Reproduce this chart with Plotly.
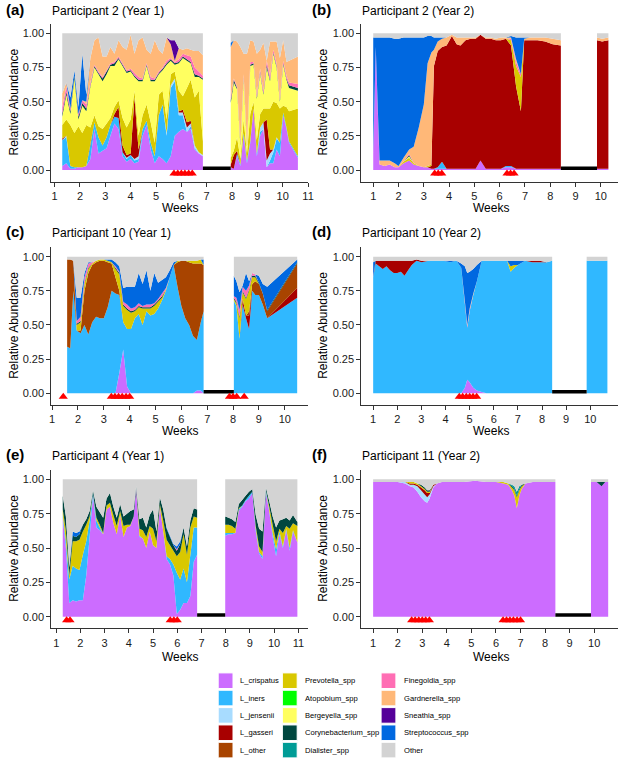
import plotly.graph_objects as go

taxa = ["L_crispatus", "L_iners", "L_jensenii", "L_gasseri", "L_other",
        "Prevotella_spp", "Atopobium_spp", "Bergeyella_spp", "Corynebacterium_spp", "Dialister_spp",
        "Finegoldia_spp", "Gardnerella_spp", "Sneathia_spp", "Streptococcus_spp", "Other"]
colors = ["#CC6CFF", "#30B8FF", "#A8DCFF", "#A80000", "#A84400",
          "#D9C800", "#00FF00", "#FFFF60", "#00473F", "#009C96",
          "#FF6EB4", "#FFB878", "#550099", "#0068E0", "#D3D3D3"]

# ---- (a) Participant 2, Year 1
a_weeks = [1.30, 1.46, 1.62, 1.78, 1.94, 2.09, 2.25, 2.41, 2.57, 2.73, 2.89, 3.05, 3.20, 3.36, 3.52, 3.68,
           3.84, 4.00, 4.15, 4.31, 4.47, 4.63, 4.79, 4.95, 5.11, 5.26, 5.42, 5.58, 5.74, 5.90, 6.06, 6.22,
           6.37, 6.53, 6.69, 6.85,
           7.95, 8.07, 8.20, 8.33, 8.46, 8.59, 8.72, 8.85, 8.98, 9.11, 9.24, 9.37, 9.50, 9.63, 9.76, 9.89,
           10.02, 10.15, 10.25, 10.60]
a_crispatus = [.03, .05, .01, .01, .02, .02, .03, .08, .30, .12, .14, .16, .25, .34, .30, .10, .06, .08, .05, .06,
               .25, .33, .15, .05, .10, .08, .05, .10, .25, .28, .30, .28, .30, .15, .12, .10,
               .02, .01, .10, .03, .25, .05, .20, .45, .10, .25, .30, .02, .05, .05, .15, .10, .40, .30, .20, .09]
a_iners = [.19, .19, .02, .01, 0, 0, 0, .10, .05, .12, .04, .08, .08, .05, .08, .03, .02, .03, .02, .02,
           .05, .03, .05, .05, .30, .40, .20, .50, .40, .12, .10, 0, .02, .01, 0, 0,
           0, 0, .02, .01, .02, .02, .01, 0, .02, .03, 0, 0, .02, .08, .08, .10, .02, .01, .01, .01]
a_jensenii = [0, .01, 0, 0, 0, 0, 0, 0, 0, 0, 0, 0, 0, 0, 0, 0, .01, 0, .01, .02,
              0, 0, 0, 0, 0, 0, .02, .02, .02, .02, .02, .03, .02, .02, .01, .01,
              0, 0, 0, 0, 0, 0, 0, 0, 0, .03, .05, .05, .05, .02, .01, 0, 0, 0, 0, 0]
a_gasseri = [.01, 0, 0, 0, 0, 0, 0, .01, 0, 0, 0, 0, 0, .02, .08, .05, .02, .01, .45, .05,
             0, 0, 0, 0, 0, 0, 0, 0, 0, .01, .02, .04, .02, 0, 0, 0,
             .02, .10, .02, 0, 0, 0, 0, 0, 0, 0, 0, .30, .03, 0, 0, 0, 0, 0, 0, 0]
a_prevotella = [.10, .12, .30, .25, .30, .25, .30, .12, .05, .08, .12, .10, .05, .05, .05, .20, .20, .25, .05, .10,
                .10, .12, .15, .10, .15, .10, .10, .08, .05, .15, .10, .25, .30, .35, .45, .10,
                .05, .03, .10, .04, .10, .05, .20, .05, .10, .10, .10, .08, .30, .35, .25, .25, .05, .15, .22, .35]
a_bergeyella = [.06, .18, .08, .40, .05, .20, .10, .30, .35, .38, .35, .36, .38, .30, .30, .38, .40, .35, .10, .40,
                .25, .28, .30, .45, .15, .15, .40, .10, .05, .20, .28, .20, .12, .15, .10, .45,
                .40, .50, .35, .10, .30, .05, .35, .27, .30, .30, .10, .30, .20, .35, .26, .05, .30, .20, .17, .13]
a_coryne = [.02, .02, .02, .02, .02, .02, .02, .01, .01, .01, .02, .02, .01, .02, .01, .01, .01, .01, .01, .01,
            .01, .01, .01, .01, .01, .01, .01, .01, .01, .01, .01, .01, .01, .02, .01, .01,
            .02, .02, .01, .01, .01, .01, .01, .01, .01, .01, .01, .02, .01, .01, .01, .01, .01, .01, .02, .02]
a_finegoldia = [.05, .04, .02, 0, .02, .02, .03, .02, .01, .01, .01, .01, .01, .01, .01, .01, .01, .01, .02, .02,
                .01, .01, .02, .01, .01, .01, .02, .01, .01, .02, .02, .03, .04, .05, .03, .02,
                .02, .01, .01, .01, .02, .01, .02, .01, .02, .02, .02, .03, .03, .02, .02, .01, .02, .02, .02, .03]
a_gardnerella = [.10, .03, 0, 0, 0, 0, .02, .18, .18, .25, .15, .10, .12, .06, .12, .12, .15, .25, .14, .27,
                 .30, .10, .17, .28, .16, .10, .17, .10, .01, .08, .03, .05, .05, .12, .15, .15,
                 .37, .28, .33, .70, .15, .66, .16, .15, .30, .14, .35, 0, .25, .06, .16, .30, .15, .10, .16, .20]
a_sneathia = [0, 0, 0, 0, 0, 0, 0, 0, 0, 0, 0, 0, 0, 0, 0, 0, 0, 0, 0, 0,
              0, 0, 0, 0, 0, 0, 0, .03, .15, 0, 0, 0, 0, 0, 0, 0,
              0, 0, 0, 0, 0, 0, 0, 0, 0, 0, 0, 0, 0, 0, 0, 0, 0, 0, 0, 0]
a_strepto = [0, 0, .08, .04, .05, .34, .05, 0, 0, 0, 0, 0, 0, 0, 0, 0, 0, 0, 0, 0,
             0, 0, 0, 0, 0, 0, 0, 0, 0, 0, 0, 0, 0, 0, 0, 0,
             .03, 0, 0, 0, 0, 0, 0, 0, 0, 0, 0, 0, 0, 0, 0, 0, 0, 0, 0, 0]
a_other = [.44, .36, .47, .27, .54, .15, .45, .18, .05, .03, .17, .17, .10, .15, .05, .10, .12, .01, .15, .05,
           .03, .12, .15, .05, .12, .15, .03, .05, .05, .11, .12, .11, .12, .13, .13, .16,
           .07, .05, .06, .10, .15, .15, .05, .06, .15, .12, .07, .20, .06, .06, .06, .18, .05, .21, .20, .17]
a_gap = [6.85, 7.95]
a_menses = [5.71, 5.86, 6.00, 6.14, 6.29, 6.43]

# ---- (b) Participant 2, Year 2
b_weeks = [1.00, 1.10, 1.25, 1.45, 1.65, 1.85, 2.00, 2.20, 2.42, 2.60, 2.80, 3.00, 3.15, 3.30, 3.40, 3.55,
           3.72, 3.90, 4.11, 4.30, 4.45, 4.65, 4.85, 5.05, 5.24, 5.45, 5.65, 5.85, 6.05, 6.25, 6.45, 6.65,
           6.84, 6.97, 7.20, 7.50, 7.80, 8.10, 8.42,
           9.85, 10.05, 10.30]
b_crispatus = [.12, .90, .04, .03, .04, .02, .02, .05, .07, .04, .03, .02, .02, .01, .01, .01, .01, .01, .01, .01,
               .01, .01, .01, .01, .07, .01, .01, .01, .01, .02, .02, .01, .01, .01, .01, .01, .01, .01, .01,
               .01, .01, .01]
b_iners = [0, 0, 0, 0, 0, 0, 0, 0, 0, 0, 0, 0, 0, 0, 0, .01, .05, 0, 0, 0,
           0, 0, 0, 0, 0, 0, 0, 0, 0, .01, .01, 0, 0, 0, 0, 0, 0, 0, 0, 0, 0, 0]
b_gasseri = [0, 0, 0, 0, 0, 0, 0, 0, 0, 0, 0, 0, 0, .02, .75, .85, .84, .90, .97, .91,
             .90, .94, .95, .95, .92, .95, .95, .94, .94, .93, .88, .60, .42, .94, .94, .94, .93, .91, .90,
             .94, .93, .94]
b_prevotella = [0, 0, 0, 0, 0, 0, 0, .01, .02, .01, 0, 0, .01, .01, 0, 0, 0, 0, 0, 0,
                0, 0, 0, 0, 0, 0, 0, 0, 0, 0, .04, .15, .25, 0, 0, 0, 0, 0, 0, 0, 0, 0]
b_bergeyella = [0, 0, 0, 0, 0, 0, 0, 0, .01, 0, 0, 0, 0, 0, 0, 0, 0, 0, 0, 0,
                0, 0, 0, 0, 0, 0, 0, 0, 0, 0, 0, 0, 0, 0, 0, 0, 0, 0, 0, 0, 0, 0]
b_coryne = [0, 0, 0, 0, 0, 0, 0, 0, .01, 0, 0, 0, 0, 0, 0, 0, 0, 0, 0, 0,
            0, 0, 0, 0, 0, 0, 0, 0, 0, 0, 0, 0, 0, 0, 0, 0, 0, 0, 0, 0, 0, 0]
b_finegoldia = [0, 0, 0, 0, 0, 0, 0, 0, .01, 0, 0, 0, 0, 0, 0, 0, 0, 0, 0, 0,
                0, 0, 0, 0, 0, 0, 0, 0, 0, 0, .01, .03, .02, 0, 0, 0, 0, 0, 0, 0, 0, 0]
b_gardnerella = [0, 0, .03, .04, .03, .03, .01, .03, .03, .12, .28, .46, .75, .82, .12, .07, .06, .06, .01, .05,
                 .06, .02, .01, .01, 0, .01, .01, .01, .02, .01, .01, .02, 0, .01, .02, .02, .03, .04, .04,
                 .02, .02, .02]
b_strepto = [.85, .07, .90, .90, .90, .91, .93, .88, .82, .80, .66, .49, .20, .12, .09, .03, .01, 0, 0, 0,
             0, 0, 0, 0, 0, 0, 0, 0, 0, 0, .01, .16, .27, .01, 0, 0, 0, 0, 0, 0, 0, 0]
b_other = [.03, .03, .03, .03, .03, .04, .04, .03, .03, .03, .03, .03, .02, .02, .03, .03, .03, .03, .01, .03,
           .03, .03, .03, .03, .01, .03, .03, .04, .03, .03, .02, .03, .03, .03, .03, .03, .03, .04, .05,
           .03, .04, .03]
b_gap = [8.42, 9.85]
b_menses = [3.43, 3.57, 3.71, 6.29, 6.43, 6.57]

# ---- (c) Participant 10, Year 1
c_weeks = [1.58, 1.70, 1.82, 1.95, 2.10, 2.25, 2.40, 2.55, 2.70, 2.85, 3.00, 3.15, 3.30, 3.45, 3.60, 3.75,
           3.90, 4.05, 4.20, 4.35, 4.50, 4.65, 4.80, 4.95, 5.10, 5.25, 5.40, 5.55, 5.70, 5.85, 6.00, 6.15,
           6.30, 6.45, 6.60, 6.75, 6.86,
           8.03, 8.13, 8.25, 8.37, 8.50, 8.62, 8.74, 8.86, 9.00, 9.15, 9.32, 10.48]
c_crispatus = [0, 0, 0, 0, 0, 0, 0, 0, 0, 0, 0, 0, 0, 0, .15, .32, .05, 0, 0, 0,
               0, 0, 0, 0, 0, 0, 0, 0, 0, 0, 0, 0, 0, 0, .02, .02, 0,
               0, 0, 0, 0, 0, 0, 0, 0, 0, 0, 0, 0]
c_iners = [.34, .33, .75, .46, .44, .50, .43, .52, .56, .55, .55, .63, .75, .73, .57, .20, .42, .47, .55, .58,
           .50, .60, .57, .58, .62, .68, .75, .85, .94, .78, .64, .55, .50, .42, .37, .50, .60,
           .68, .64, .40, .65, .55, .47, .75, .72, .72, .65, .55, .70]
c_gasseri = [0, 0, 0, 0, 0, 0, 0, 0, 0, 0, 0, 0, 0, 0, 0, 0, 0, 0, 0, 0,
             0, 0, 0, 0, 0, 0, 0, 0, 0, 0, 0, 0, 0, 0, 0, 0, 0,
             0, 0, 0, .04, .02, .10, 0, 0, 0, 0, 0, .07]
c_lother = [.64, .65, .22, 0, .02, .25, .45, .42, .40, .42, .42, .33, .20, .12, .03, 0, 0, 0, 0, 0,
            0, 0, 0, 0, 0, 0, 0, 0, 0, .18, .33, .42, .46, .53, .56, .43, .34,
            0, 0, 0, 0, 0, .03, .05, .10, .08, .08, .05, .18]
c_prevotella = [0, 0, 0, .04, .06, .05, .03, .01, .01, .01, .01, .01, .01, .06, .12, .12, .14, .12, .05, .05,
                .12, .02, .05, .06, .05, .02, .01, 0, 0, .01, 0, 0, .01, .02, .02, .03, 0,
                .01, .02, .15, .05, .12, .15, .05, .03, 0, 0, 0, 0]
c_coryne = [0, 0, 0, .01, .01, .01, .01, 0, 0, 0, 0, 0, 0, .01, .01, .01, .01, .01, .01, .01,
            .01, .01, .01, .01, .01, .01, 0, 0, 0, 0, 0, 0, 0, 0, 0, 0, 0,
            .01, .01, .01, .01, .01, .01, .01, .01, .01, 0, .01, .01]
c_finegoldia = [0, 0, 0, .02, .03, .04, .03, .01, 0, 0, 0, 0, 0, .01, .01, .02, .03, .02, .02, .02,
                .01, .02, .02, .01, .01, .02, .01, 0, 0, 0, 0, 0, 0, 0, 0, 0, 0,
                .01, .03, .05, .03, .05, .03, .02, .01, 0, 0, 0, 0]
c_strepto = [0, 0, 0, .17, .14, .03, .01, 0, 0, 0, 0, .01, .02, .03, .04, .10, .13, .16, .15, .22,
             .16, .25, .10, .22, .12, .10, .08, .05, .02, 0, 0, 0, 0, 0, 0, 0, .04,
             .15, .12, .13, .01, .13, .03, 0, 0, .05, .07, .17, .02]
c_other = [.02, .02, .03, .30, .30, .12, .04, .04, .03, .02, .02, .02, .02, .04, .07, .23, .22, .22, .22, .12,
           .20, .10, .25, .12, .19, .17, .15, .10, .04, .03, .03, .03, .03, .03, .03, .02, .02,
           .14, .18, .26, .21, .12, .18, .12, .13, .14, .20, .22, .02]
c_gap = [6.86, 8.03]
c_menses = [1.43, 3.29, 3.43, 3.57, 3.71, 3.86, 4.00, 7.86, 8.00, 8.14, 8.43]

# ---- (d) Participant 10, Year 2
d_weeks = [1.00, 1.10, 1.25, 1.40, 1.55, 1.70, 1.85, 2.00, 2.15, 2.30, 2.45, 2.60, 2.80, 3.00, 3.30, 3.60,
           3.90, 4.20, 4.45, 4.65, 4.80, 4.90, 5.00, 5.15, 5.30, 5.50, 5.70, 6.00, 6.30, 6.55, 6.70, 6.85,
           7.00, 7.30, 7.60, 7.90, 8.20, 8.42,
           9.85, 10.20, 10.71]
d_crispatus = [0, 0, 0, 0, 0, 0, 0, 0, 0, 0, 0, 0, 0, 0, 0, 0, 0, 0, 0, 0,
               .04, .10, .08, .04, .02, .01, 0, 0, 0, 0, 0, 0, 0, 0, 0, 0, 0, 0, 0, 0, 0]
d_iners = [.85, .95, .93, .91, .93, .90, .88, .88, .89, .86, .90, .94, .97, .96, .97, .97, .97, .96, .97, .92,
           .62, .38, .52, .68, .80, .96, .97, .97, .97, .97, .89, .92, .94, .97, .96, .96, .96, .97,
           .97, .97, .97]
d_gasseri = [0, .02, .04, .06, .04, .07, .09, .09, .08, .11, .07, .03, .01, .01, 0, 0, 0, 0, 0, 0,
             0, 0, 0, 0, 0, 0, 0, 0, 0, 0, 0, 0, 0, 0, .01, .01, 0, 0, 0, 0, 0]
d_prevotella = [0, 0, 0, 0, 0, 0, 0, 0, 0, 0, 0, 0, 0, 0, 0, 0, 0, 0, 0, 0,
                0, 0, 0, 0, 0, 0, 0, 0, 0, 0, .04, .02, 0, 0, 0, 0, 0, 0, 0, 0, 0]
d_finegoldia = [0, 0, 0, 0, 0, 0, 0, 0, 0, 0, 0, 0, 0, 0, 0, 0, 0, 0, 0, 0,
                .01, .01, .01, 0, 0, 0, 0, 0, 0, 0, 0, 0, 0, 0, 0, 0, 0, 0, 0, 0, 0]
d_gardnerella = [0, 0, 0, 0, 0, 0, 0, 0, 0, 0, 0, 0, 0, 0, 0, 0, 0, 0, 0, 0,
                 .01, .01, .01, .01, 0, 0, 0, 0, 0, 0, 0, 0, 0, 0, 0, 0, 0, 0, 0, 0, 0]
d_strepto = [.11, 0, 0, 0, 0, 0, 0, 0, 0, 0, 0, 0, 0, 0, 0, 0, 0, .01, 0, .03,
             .25, .38, .27, .18, .12, 0, 0, 0, 0, 0, .04, .03, .03, 0, 0, 0, 0, 0, 0, 0, 0]
d_other = [.04, .03, .03, .03, .03, .03, .03, .03, .03, .03, .03, .03, .02, .03, .03, .03, .03, .03, .03, .05,
           .07, .12, .11, .09, .06, .03, .03, .03, .03, .03, .03, .03, .03, .03, .03, .03, .04, .03,
           .03, .03, .03]
d_gap = [8.42, 9.85]
d_menses = [4.57, 4.71, 4.86, 5.00, 5.14, 5.29]

# ---- (e) Participant 4, Year 1
e_weeks = [1.27, 1.40, 1.54, 1.68, 1.82, 1.96, 2.10, 2.24, 2.38, 2.52, 2.66, 2.80, 2.94, 3.08, 3.22, 3.36,
           3.50, 3.64, 3.78, 3.92, 4.06, 4.20, 4.30, 4.44, 4.58, 4.72, 4.86, 5.00, 5.14, 5.28, 5.42, 5.56,
           5.70, 5.84, 5.98, 6.12, 6.26, 6.40, 6.54, 6.68, 6.82,
           7.98, 8.12, 8.26, 8.40, 8.54, 8.68, 8.82, 8.96, 9.10, 9.24, 9.38, 9.52, 9.66, 9.80, 9.94, 10.08,
           10.22, 10.36, 10.50, 10.64, 10.78, 10.96]
e_crispatus = [.72, .50, .10, .12, .11, .12, .12, .30, .58, .88, .65, .63, .60, .78, .80, .68, .60, .74, .58, .65,
               .66, .73, .93, .58, .57, .50, .62, .52, .50, .80, .62, .42, .38, .30, .02, .05, .10, .10, .15, .40,
               .45,
               .59, .60, .60, .61, .77, .80, .84, .86, .90, .62, .46, .42, .90, .76, .58, .44, .60, .50, .63,
               .48, .62, .54]
e_iners = [.02, .05, .17, .25, .24, .22, .33, .25, .12, .02, .05, .02, 0, 0, 0, 0, 0, 0, 0, 0,
           0, 0, 0, .01, 0, 0, 0, 0, 0, 0, 0, .02, .04, .08, .30, .22, .25, .15, .30, .25,
           .20,
           .02, .01, .01, 0, .01, .01, .01, .02, .01, .02, .01, .02, .02, .01, .03, .05, .02, .01, .01,
           .02, .01, 0]
e_prevotella = [.04, .08, .03, .18, .20, .22, .17, .12, .03, 0, .02, .02, .01, .03, .03, .06, .06, .03, .08, .02,
                .01, 0, 0, .05, .06, .08, .04, .12, .05, .02, .08, .12, .10, .10, .12, .20, .25, .20, .20, .08,
                .07,
                .06, .06, .05, .03, .01, 0, 0, 0, 0, .02, .04, .03, 0, .03, .06, .06, .02, .10, .02,
                .14, .05, .12]
e_coryne = [.10, .10, .06, .04, .03, .04, .05, .04, .04, .02, .08, .09, .11, .05, .07, .06, .06, .05, .07, .08,
            .10, .05, .02, .07, .09, .07, .08, .14, .07, .05, .08, .08, .06, .04, .04, .06, .05, .06, .05, .06,
            .06,
            .06, .05, .05, .05, .03, .04, .03, .03, .02, .08, .13, .15, .02, .04, .06, .10, .06, .10, .06,
            .06, .06, .03]
e_finegoldia = [0, 0, 0, 0, 0, 0, 0, 0, 0, 0, 0, 0, 0, 0, 0, 0, 0, 0, 0, 0,
                0, 0, 0, 0, 0, 0, 0, 0, 0, 0, 0, 0, 0, 0, .01, 0, 0, 0, 0, 0,
                0,
                0, 0, 0, 0, 0, 0, 0, 0, 0, 0, 0, 0, 0, 0, 0, 0, 0, 0, 0,
                0, 0, 0]
e_strepto = [0, 0, 0, .03, .03, .02, 0, 0, 0, 0, 0, 0, 0, 0, 0, 0, 0, 0, 0, 0,
             0, 0, 0, 0, 0, 0, 0, 0, 0, 0, 0, .01, .01, .01, .02, .02, 0, 0, 0, 0,
             0,
             0, 0, 0, 0, 0, 0, 0, 0, 0, 0, 0, 0, 0, 0, 0, 0, 0, 0, 0,
             0, 0, 0]
e_other = [.12, .27, .64, .38, .39, .38, .33, .29, .23, .08, .20, .24, .28, .14, .10, .20, .28, .18, .27, .25,
           .23, .22, .05, .29, .28, .35, .26, .22, .38, .13, .22, .35, .41, .47, .49, .45, .35, .49, .30, .21,
           .22,
           .27, .28, .29, .31, .18, .15, .12, .09, .07, .26, .36, .38, .06, .16, .27, .35, .30, .29, .28,
           .30, .26, .31]
e_gap = [6.82, 7.98]
e_menses = [1.43, 1.57, 5.71, 5.86, 6.00]

# ---- (f) Participant 11, Year 2
f_weeks = [1.00, 1.50, 2.00, 2.30, 2.50, 2.65, 2.80, 2.95, 3.10, 3.20, 3.30, 3.45, 3.60, 3.80, 4.20, 4.70,
           5.15, 5.60, 6.00, 6.30, 6.50, 6.65, 6.75, 6.85, 6.95, 7.05, 7.20, 7.50, 8.00, 8.42,
           9.87, 10.10, 10.30, 10.45, 10.57]
f_crispatus = [.98, .98, .98, .97, .95, .94, .91, .87, .84, .83, .86, .94, .97, .98, .98, .98, .99, .98, .98, .97,
               .96, .92, .88, .79, .88, .93, .97, .98, .98, .98, .98, .98, .95, .98, .98]
f_jensenii = [0, 0, 0, .01, .01, .02, .04, .05, .05, .04, .03, .01, 0, 0, 0, 0, 0, 0, 0, 0,
              0, 0, 0, 0, 0, 0, 0, 0, 0, 0, 0, 0, 0, 0, 0]
f_gasseri = [0, 0, 0, 0, .01, .01, .01, .02, .03, .03, .01, .01, 0, 0, 0, 0, 0, 0, 0, 0,
             0, 0, 0, 0, 0, 0, 0, 0, 0, 0, 0, 0, 0, 0, 0]
f_prevotella = [0, 0, 0, 0, .01, .01, .01, .01, .01, .01, .01, 0, 0, 0, 0, 0, 0, 0, 0, .01,
                .01, .02, .04, .08, .04, .02, 0, 0, 0, 0, 0, 0, 0, 0, 0]
f_coryne = [0, 0, 0, 0, 0, 0, 0, .01, .01, .01, .01, 0, 0, 0, 0, 0, 0, 0, 0, 0,
            0, .01, .01, .01, .01, .01, 0, 0, 0, 0, 0, 0, .03, 0, 0]
f_dialister = [0, 0, 0, 0, 0, 0, 0, 0, 0, 0, 0, 0, 0, 0, 0, 0, 0, 0, 0, 0,
               0, .01, .02, .03, .02, 0, 0, 0, 0, 0, 0, 0, 0, 0, 0]
f_other = [.02, .02, .02, .02, .02, .02, .03, .04, .06, .08, .08, .04, .03, .02, .02, .02, .01, .02, .02, .02,
           .03, .04, .05, .09, .05, .04, .03, .02, .02, .02, .02, .02, .02, .02, .02]
f_gap = [8.42, 9.87]
f_menses = [2.57, 2.71, 2.86, 3.00, 3.14, 3.29, 6.29, 6.43, 6.57, 6.71, 6.86, 7.00]

panels = [
    ("(a)", "Participant 2 (Year 1)", a_weeks, a_gap, a_menses, [0.87, 11.0], 11,
     {"L_crispatus": a_crispatus, "L_iners": a_iners, "L_jensenii": a_jensenii, "L_gasseri": a_gasseri,
      "Prevotella_spp": a_prevotella, "Bergeyella_spp": a_bergeyella, "Corynebacterium_spp": a_coryne,
      "Finegoldia_spp": a_finegoldia, "Gardnerella_spp": a_gardnerella, "Sneathia_spp": a_sneathia,
      "Streptococcus_spp": a_strepto, "Other": a_other}),
    ("(b)", "Participant 2 (Year 2)", b_weeks, b_gap, b_menses, [0.53, 10.68], 10,
     {"L_crispatus": b_crispatus, "L_iners": b_iners, "L_gasseri": b_gasseri, "Prevotella_spp": b_prevotella,
      "Bergeyella_spp": b_bergeyella, "Corynebacterium_spp": b_coryne, "Finegoldia_spp": b_finegoldia,
      "Gardnerella_spp": b_gardnerella, "Streptococcus_spp": b_strepto, "Other": b_other}),
    ("(c)", "Participant 10 (Year 1)", c_weeks, c_gap, c_menses, [0.97, 10.9], 10,
     {"L_crispatus": c_crispatus, "L_iners": c_iners, "L_gasseri": c_gasseri, "L_other": c_lother,
      "Prevotella_spp": c_prevotella, "Corynebacterium_spp": c_coryne, "Finegoldia_spp": c_finegoldia,
      "Streptococcus_spp": c_strepto, "Other": c_other}),
    ("(d)", "Participant 10 (Year 2)", d_weeks, d_gap, d_menses, [0.51, 11.15], 10,
     {"L_crispatus": d_crispatus, "L_iners": d_iners, "L_gasseri": d_gasseri, "Prevotella_spp": d_prevotella,
      "Finegoldia_spp": d_finegoldia, "Gardnerella_spp": d_gardnerella, "Streptococcus_spp": d_strepto,
      "Other": d_other}),
    ("(e)", "Participant 4 (Year 1)", e_weeks, e_gap, e_menses, [0.8, 11.4], 11,
     {"L_crispatus": e_crispatus, "L_iners": e_iners, "Prevotella_spp": e_prevotella,
      "Corynebacterium_spp": e_coryne, "Finegoldia_spp": e_finegoldia, "Streptococcus_spp": e_strepto,
      "Other": e_other}),
    ("(f)", "Participant 11 (Year 2)", f_weeks, f_gap, f_menses, [0.52, 10.97], 10,
     {"L_crispatus": f_crispatus, "L_jensenii": f_jensenii, "L_gasseri": f_gasseri,
      "Prevotella_spp": f_prevotella, "Corynebacterium_spp": f_coryne, "Dialister_spp": f_dialister,
      "Other": f_other}),
]

W, H = 625, 758
FONT = "Liberation Sans, Arial, sans-serif"
col_px = [(50, 310), (364, 624)]
row_px = [(33.3, 170.0), (256.7, 393.3), (479.3, 616.7)]   # pixel rows of y=1 and y=0
y_lo, y_hi = -0.085, 1.07
gap_level = 0.012
menses_level = -0.025

fig = go.Figure()
annotations = []
shapes = []
color_of = dict(zip(taxa, colors))

for n, (letter, title, weeks, gap, menses, xr, nticks, series) in enumerate(panels):
    r, c = divmod(n, 2)
    sfx = "" if n == 0 else str(n + 1)
    x0, x1 = col_px[c]
    p1, p0 = row_px[r]
    s = p0 - p1
    bot = p0 - y_lo * s
    top = p1 - (y_hi - 1) * s

    segs = [[k for k, w in enumerate(weeks) if w <= gap[0]],
            [k for k, w in enumerate(weeks) if w >= gap[1]]]
    for si, idx in enumerate(segs):
        for t in taxa:
            if t not in series:
                continue
            vals = series[t]
            fig.add_trace(go.Scatter(
                x=[weeks[k] for k in idx], y=[vals[k] for k in idx],
                stackgroup=f"p{n}s{si}", mode="none", fillcolor=color_of[t],
                name=t, showlegend=False, xaxis="x" + sfx, yaxis="y" + sfx))

    fig.add_trace(go.Scatter(x=gap, y=[gap_level, gap_level], mode="lines",
                             line=dict(color="black", width=3.5), showlegend=False,
                             xaxis="x" + sfx, yaxis="y" + sfx))
    fig.add_trace(go.Scatter(x=menses, y=[menses_level] * len(menses), mode="markers",
                             marker=dict(symbol="triangle-up", color="#FF0000", size=8, line=dict(width=0)),
                             showlegend=False, xaxis="x" + sfx, yaxis="y" + sfx))

    axis_common = dict(showline=True, linecolor="#333333", linewidth=1.1, ticks="outside", ticklen=4,
                       tickcolor="#333333", tickfont=dict(size=11, color="#1a1a1a", family=FONT),
                       showgrid=False, zeroline=False, fixedrange=True)
    fig.update_layout(**{
        "xaxis" + sfx: dict(domain=[x0 / W, x1 / W], range=xr, anchor="y" + sfx,
                            tickvals=list(range(1, nticks + 1)), **axis_common),
        "yaxis" + sfx: dict(domain=[1 - bot / H, 1 - top / H], range=[y_lo, y_hi], anchor="x" + sfx,
                            tickvals=[0, 0.25, 0.5, 0.75, 1.0],
                            ticktext=["0.00", "0.25", "0.50", "0.75", "1.00"], **axis_common),
    })

    lx = 2 if c == 0 else 312
    ty = [11, 233, 456][r]
    annotations.append(dict(x=lx / W, y=1 - (ty - 2) / H, xref="paper", yref="paper", text="<b>" + letter + "</b>",
                            showarrow=False, xanchor="left", yanchor="middle",
                            font=dict(size=15, color="black", family=FONT)))
    annotations.append(dict(x=(x0 - 1) / W, y=1 - ty / H, xref="paper", yref="paper", text=title,
                            showarrow=False, xanchor="left", yanchor="middle",
                            font=dict(size=12, color="black", family=FONT)))
    annotations.append(dict(x=[180, 495][c] / W, y=1 - [208, 431, 657][r] / H, xref="paper", yref="paper",
                            text="Weeks", showarrow=False, xanchor="center", yanchor="middle",
                            font=dict(size=12, color="black", family=FONT)))
    annotations.append(dict(x=[12, 325][c] / W, y=1 - (p0 + p1) / 2 / H, xref="paper", yref="paper",
                            text="Relative Abundance", textangle=-90, showarrow=False,
                            xanchor="center", yanchor="middle",
                            font=dict(size=12, color="black", family=FONT)))

# legend drawn as a 3 x 5 key grid
box_x = [219, 284, 384]
lab_x = [239, 305, 405]
for i, (t, col) in enumerate(zip(taxa, colors)):
    cc, rr = divmod(i, 5)
    yc = 680.7 + rr * 17.35
    shapes.append(dict(type="rect", xref="paper", yref="paper",
                       x0=box_x[cc] / W, x1=(box_x[cc] + 15) / W,
                       y0=1 - (yc + 7.8) / H, y1=1 - (yc - 7.8) / H,
                       fillcolor=col, line=dict(color="white", width=1)))
    annotations.append(dict(x=lab_x[cc] / W, y=1 - yc / H, xref="paper", yref="paper", text=t,
                            showarrow=False, xanchor="left", yanchor="middle",
                            font=dict(size=7.6, color="black", family=FONT)))

fig.update_layout(width=W, height=H, margin=dict(l=0, r=0, t=0, b=0),
                  plot_bgcolor="white", paper_bgcolor="white",
                  annotations=annotations, shapes=shapes, showlegend=False,
                  font=dict(family=FONT))
# the page's default body margin would push the figure 8px right and down
fig.write_html("out.html", config={"displayModeBar": False},
               post_script="document.body.style.margin = '0px';")
